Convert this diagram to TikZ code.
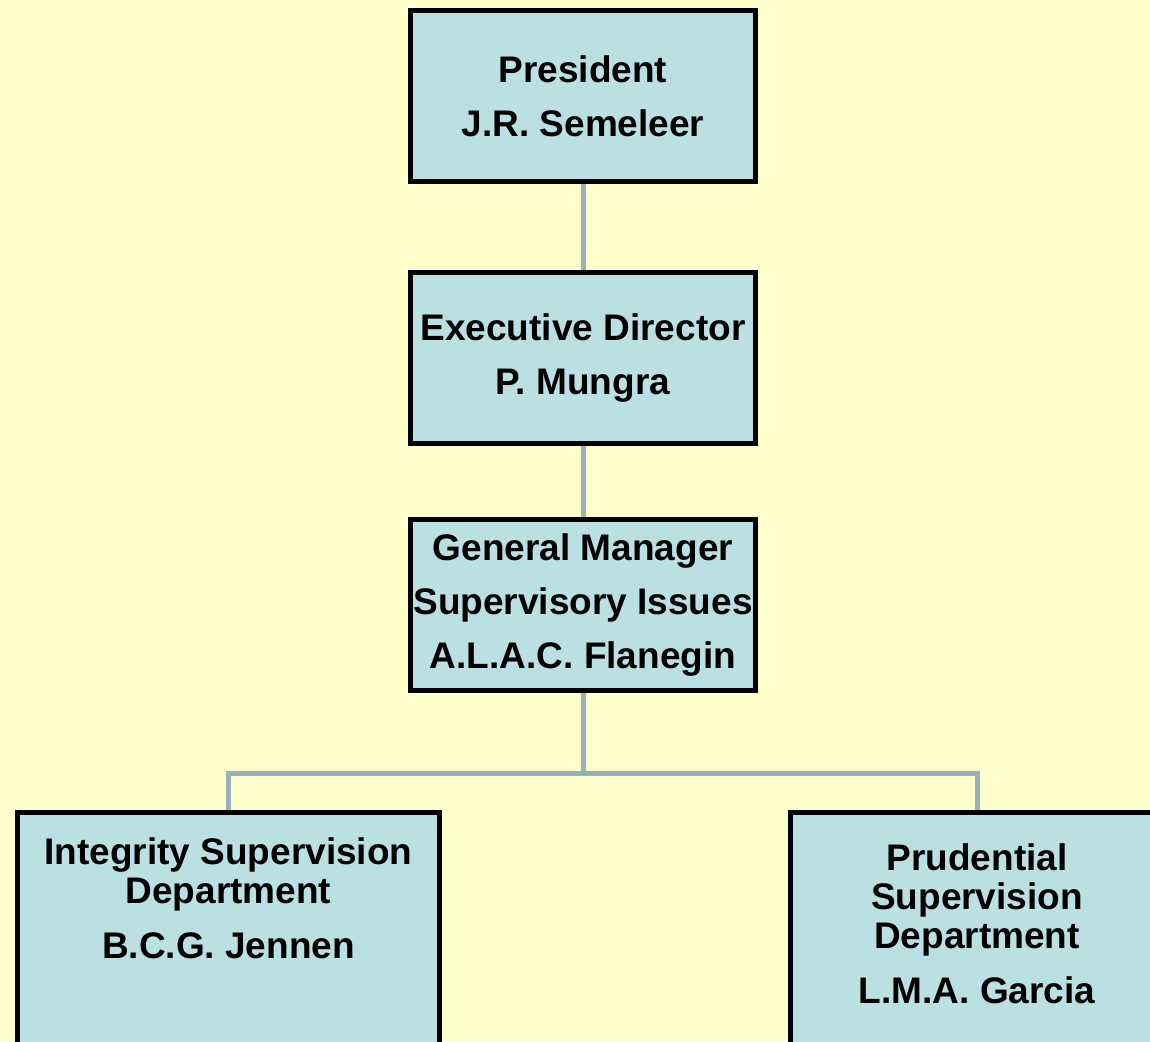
\documentclass[tikz,border=0pt]{standalone}
\usepackage{fontspec}
\setmainfont{Liberation Sans}
\usepackage{tikz}
\definecolor{chartbg}{RGB}{255, 255, 204}
\definecolor{boxblue}{RGB}{187, 224, 227}
\definecolor{linkgray}{RGB}{150, 177, 183}

\begin{document}
\begin{tikzpicture}[x=0.5pt, y=-0.5pt,
  officebox/.style={draw=black, line width=2.5pt, fill=boxblue, minimum width=172.5pt, minimum height=85.5pt, inner sep=0pt, align=center, font=\fontsize{18.5}{27}\selectfont\bfseries},
  deptbox/.style={draw=black, line width=2.5pt, fill=boxblue, minimum height=147.5pt, inner sep=0pt},
  deptlabel/.style={inner sep=0pt, align=center, font=\fontsize{18.5}{19.5}\selectfont\bfseries},
  link/.style={draw=linkgray, line width=2.5pt}]
  % Page
  \fill[chartbg] (0,0) rectangle (1150,1041);
  \useasboundingbox (0,0) rectangle (1150,1041);
  \clip (0,0) rectangle (1150,1041);

  % Top of the chart
  \node[officebox] (pres) at (583, 96) {President\\J.R. Semeleer};
  \node[officebox] (exec) at (583, 357.5) {Executive Director\\P. Mungra};
  \node[officebox] (gm) at (583, 604.5) {General Manager\\Supervisory Issues\\A.L.A.C. Flanegin};

  % Departments
  \node[deptbox, minimum width=211pt] (integ) at (228.5, 960) {};
  \node[deptlabel] (integtext) at (228.5, 898) {Integrity Supervision\\Department\\[8pt]B.C.G. Jennen};
  \node[deptbox, minimum width=186.5pt] (prud) at (977, 960) {};
  \node[deptlabel] (prudtext) at (977, 924) {Prudential\\Supervision\\Department\\[8pt]L.M.A. Garcia};

  % Lines
  \coordinate (bus) at (583, 773);
  \draw[link] (pres.south) -- (exec.north);
  \draw[link] (exec.south) -- (gm.north);
  \draw[link] (gm.south) -- (bus);
  \draw[link] (integ.north) |- (bus) -| (prud.north);
\end{tikzpicture}
\end{document}
